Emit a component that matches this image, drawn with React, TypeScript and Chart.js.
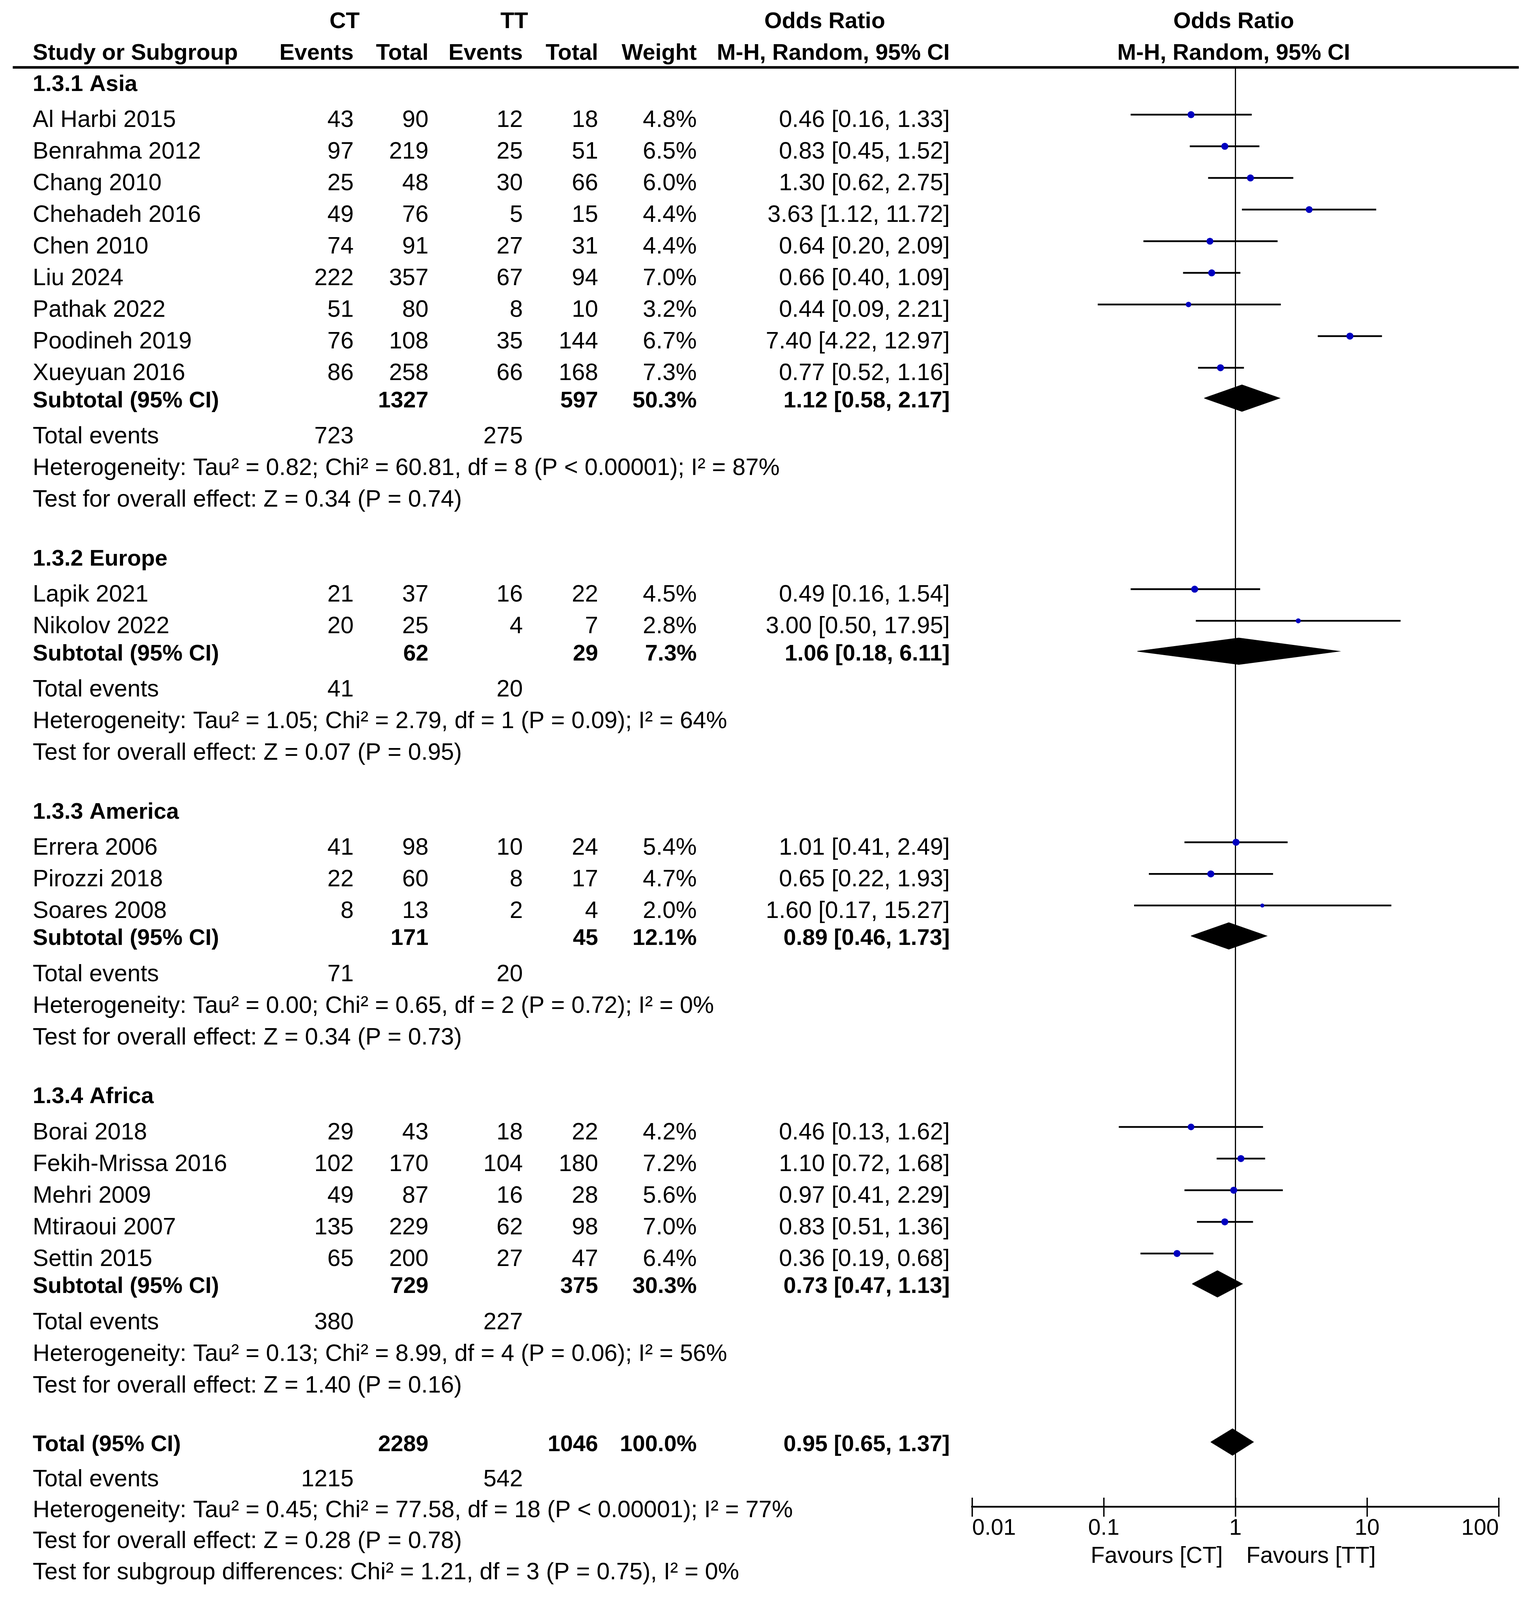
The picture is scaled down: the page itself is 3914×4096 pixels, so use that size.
import React, { useEffect, useRef } from 'react';
import { Chart, registerables } from 'chart.js';

Chart.register(...registerables);

// ---------------- data ----------------
const GROUP_LABELS = ['1.3.1 Asia', '1.3.2 Europe', '1.3.3 America', '1.3.4 Africa'];
const GROUP_SIZES = [9, 2, 3, 5];

const STUDY_NAMES = [
  'Al Harbi 2015', 'Benrahma 2012', 'Chang 2010', 'Chehadeh 2016', 'Chen 2010', 'Liu 2024',
  'Pathak 2022', 'Poodineh 2019', 'Xueyuan 2016',
  'Lapik 2021', 'Nikolov 2022',
  'Errera 2006', 'Pirozzi 2018', 'Soares 2008',
  'Borai 2018', 'Fekih-Mrissa 2016', 'Mehri 2009', 'Mtiraoui 2007', 'Settin 2015',
];
const CT_EVENTS = [43, 97, 25, 49, 74, 222, 51, 76, 86, 21, 20, 41, 22, 8, 29, 102, 49, 135, 65];
const CT_TOTAL = [90, 219, 48, 76, 91, 357, 80, 108, 258, 37, 25, 98, 60, 13, 43, 170, 87, 229, 200];
const TT_EVENTS = [12, 25, 30, 5, 27, 67, 8, 35, 66, 16, 4, 10, 8, 2, 18, 104, 16, 62, 27];
const TT_TOTAL = [18, 51, 66, 15, 31, 94, 10, 144, 168, 22, 7, 24, 17, 4, 22, 180, 28, 98, 47];
const WEIGHTS = [4.8, 6.5, 6.0, 4.4, 4.4, 7.0, 3.2, 6.7, 7.3, 4.5, 2.8, 5.4, 4.7, 2.0, 4.2, 7.2, 5.6, 7.0, 6.4];
const ODDS = [0.46, 0.83, 1.30, 3.63, 0.64, 0.66, 0.44, 7.40, 0.77, 0.49, 3.00, 1.01, 0.65, 1.60, 0.46, 1.10, 0.97, 0.83, 0.36];
const CI_LOW = [0.16, 0.45, 0.62, 1.12, 0.20, 0.40, 0.09, 4.22, 0.52, 0.16, 0.50, 0.41, 0.22, 0.17, 0.13, 0.72, 0.41, 0.51, 0.19];
const CI_HIGH = [1.33, 1.52, 2.75, 11.72, 2.09, 1.09, 2.21, 12.97, 1.16, 1.54, 17.95, 2.49, 1.93, 15.27, 1.62, 1.68, 2.29, 1.36, 0.68];

const SUB_CT_TOTAL = [1327, 62, 171, 729];
const SUB_TT_TOTAL = [597, 29, 45, 375];
const SUB_WEIGHTS = [50.3, 7.3, 12.1, 30.3];
const SUB_ODDS = [1.12, 1.06, 0.89, 0.73];
const SUB_LOW = [0.58, 0.18, 0.46, 0.47];
const SUB_HIGH = [2.17, 6.11, 1.73, 1.13];
const SUB_CT_EVENTS = [723, 41, 71, 380];
const SUB_TT_EVENTS = [275, 20, 20, 227];
const SUB_HETEROGENEITY = [
  'Heterogeneity: Tau² = 0.82; Chi² = 60.81, df = 8 (P < 0.00001); I² = 87%',
  'Heterogeneity: Tau² = 1.05; Chi² = 2.79, df = 1 (P = 0.09); I² = 64%',
  'Heterogeneity: Tau² = 0.00; Chi² = 0.65, df = 2 (P = 0.72); I² = 0%',
  'Heterogeneity: Tau² = 0.13; Chi² = 8.99, df = 4 (P = 0.06); I² = 56%',
];
const SUB_OVERALL = [
  'Test for overall effect: Z = 0.34 (P = 0.74)',
  'Test for overall effect: Z = 0.07 (P = 0.95)',
  'Test for overall effect: Z = 0.34 (P = 0.73)',
  'Test for overall effect: Z = 1.40 (P = 0.16)',
];

const TOTAL_CT_TOTAL = 2289;
const TOTAL_TT_TOTAL = 1046;
const TOTAL_WEIGHT = 100.0;
const TOTAL_ODDS = 0.95;
const TOTAL_LOW = 0.65;
const TOTAL_HIGH = 1.37;
const TOTAL_CT_EVENTS = 1215;
const TOTAL_TT_EVENTS = 542;
const TOTAL_NOTES = [
  'Heterogeneity: Tau² = 0.45; Chi² = 77.58, df = 18 (P < 0.00001); I² = 77%',
  'Test for overall effect: Z = 0.28 (P = 0.78)',
  'Test for subgroup differences: Chi² = 1.21, df = 3 (P = 0.75), I² = 0%',
];

const AXIS_TICKS = [0.01, 0.1, 1, 10, 100];
const AXIS_LABELS = ['0.01', '0.1', '1', '10', '100'];
const FAVOURS = ['Favours [CT]', 'Favours [TT]'];
const HEADER_TOP = ['CT', 'TT', 'Odds Ratio', 'Odds Ratio'];
const HEADER_BOTTOM = ['Study or Subgroup', 'Events', 'Total', 'Events', 'Total', 'Weight', 'M-H, Random, 95% CI', 'M-H, Random, 95% CI'];

// ---------------- layout (reference units) ----------------
const W = 3914;
const H = 4096;
const SX = W / 1498;
const Y_MAX = 1568;
const COL = {
  name: 32.1, ctEv: 346.5, ctTot: 419.8, ttEv: 512.2, ttTot: 586, weight: 682.6, ci: 930.5,
  ct: 337.6, tt: 503.8, orHead: 808, plotHead: 1208.7,
};
const AXIS_Y = 1476.6;
const TICK_HALF = 8.9;
const PLOT_LEFT = 952.4;
const PLOT_RIGHT = 1468.4;
const RULE_Y = 66;
const RULE_X0 = 12.5;
const RULE_X1 = 1488;
const HEAD1_Y = 19.4;
const HEAD2_Y = 50.7;
const FIRST_GROUP_Y = 81.2;
const DOT_SHIFT = -3.8;
const DIAMOND_SHIFT = -1;
const DIAMOND_HALF = 13;
const FAV_Y = 1523.4;

const FAMILY = '"Liberation Sans", Arial, Helvetica, sans-serif';
const REG = 60.5;
const BOLD = 58;
const TICK_FONT = 57.5;
const FAV_FONT = 58.5;

function buildRows() {
  const groupY: number[] = [];
  const studyY: number[] = [];
  const subY: number[] = [];
  const evY: number[] = [];
  const hetY: number[] = [];
  const testY: number[] = [];
  let y = FIRST_GROUP_Y;
  GROUP_SIZES.forEach((n, g) => {
    if (g > 0) y += 58;
    groupY.push(y);
    y += 35;
    for (let i = 0; i < n; i++) {
      if (i > 0) y += 31;
      studyY.push(y);
    }
    y += 27; subY.push(y);
    y += 35; evY.push(y);
    y += 31; hetY.push(y);
    y += 31; testY.push(y);
  });
  const totalY = y + 58;
  const totEvY = totalY + 34.1;
  const noteY = [totEvY + 30.3, totEvY + 60.6, totEvY + 90.9];
  return { groupY, studyY, subY, evY, hetY, testY, totalY, totEvY, noteY };
}
const ROWS = buildRows();

const f2 = (v: number) => v.toFixed(2);
const ciText = (o: number, l: number, h: number) => `${f2(o)} [${f2(l)}, ${f2(h)}]`;
const pct = (w: number) => `${w.toFixed(1)}%`;

function put(ctx: CanvasRenderingContext2D, yScale: any, s: string, xRef: number, yVal: number,
  align: CanvasTextAlign, bold: boolean, size?: number) {
  const sz = size ?? (bold ? BOLD : REG);
  ctx.font = `${bold ? 'bold ' : ''}${sz}px ${FAMILY}`;
  ctx.textAlign = align;
  ctx.textBaseline = 'alphabetic';
  ctx.fillStyle = '#000';
  ctx.fillText(s, xRef * SX, yScale.getPixelForValue(yVal) + 0.36 * sz);
}

const tablePlugin = {
  id: 'forestTable',
  beforeDraw(chart: any) {
    const ctx = chart.ctx;
    ctx.save();
    ctx.fillStyle = '#fff';
    ctx.fillRect(0, 0, chart.width, chart.height);
    ctx.restore();
  },
  afterDraw(chart: any) {
    const ctx: CanvasRenderingContext2D = chart.ctx;
    const ys = chart.scales.y;
    const xs = chart.scales.x;
    ctx.save();
    // header rule
    ctx.strokeStyle = '#000';
    ctx.lineWidth = 6.5;
    ctx.beginPath();
    ctx.moveTo(RULE_X0 * SX, ys.getPixelForValue(RULE_Y));
    ctx.lineTo(RULE_X1 * SX, ys.getPixelForValue(RULE_Y));
    ctx.stroke();

    // headers
    const hx1 = [COL.ct, COL.tt, COL.orHead, COL.plotHead];
    HEADER_TOP.forEach((t, i) => put(ctx, ys, t, hx1[i], HEAD1_Y, 'center', true));
    const hx2 = [COL.name, COL.ctEv, COL.ctTot, COL.ttEv, COL.ttTot, COL.weight, COL.ci, COL.plotHead];
    const ha2: CanvasTextAlign[] = ['left', 'right', 'right', 'right', 'right', 'right', 'right', 'center'];
    HEADER_BOTTOM.forEach((t, i) => put(ctx, ys, t, hx2[i], HEAD2_Y, ha2[i], true));

    // groups
    let s = 0;
    GROUP_SIZES.forEach((n, g) => {
      put(ctx, ys, GROUP_LABELS[g], COL.name, ROWS.groupY[g], 'left', true);
      for (let i = 0; i < n; i++, s++) {
        const y = ROWS.studyY[s];
        put(ctx, ys, STUDY_NAMES[s], COL.name, y, 'left', false);
        put(ctx, ys, String(CT_EVENTS[s]), COL.ctEv, y, 'right', false);
        put(ctx, ys, String(CT_TOTAL[s]), COL.ctTot, y, 'right', false);
        put(ctx, ys, String(TT_EVENTS[s]), COL.ttEv, y, 'right', false);
        put(ctx, ys, String(TT_TOTAL[s]), COL.ttTot, y, 'right', false);
        put(ctx, ys, pct(WEIGHTS[s]), COL.weight, y, 'right', false);
        put(ctx, ys, ciText(ODDS[s], CI_LOW[s], CI_HIGH[s]), COL.ci, y, 'right', false);
      }
      const sy = ROWS.subY[g];
      put(ctx, ys, 'Subtotal (95% CI)', COL.name, sy, 'left', true);
      put(ctx, ys, String(SUB_CT_TOTAL[g]), COL.ctTot, sy, 'right', true);
      put(ctx, ys, String(SUB_TT_TOTAL[g]), COL.ttTot, sy, 'right', true);
      put(ctx, ys, pct(SUB_WEIGHTS[g]), COL.weight, sy, 'right', true);
      put(ctx, ys, ciText(SUB_ODDS[g], SUB_LOW[g], SUB_HIGH[g]), COL.ci, sy, 'right', true);
      const ey = ROWS.evY[g];
      put(ctx, ys, 'Total events', COL.name, ey, 'left', false);
      put(ctx, ys, String(SUB_CT_EVENTS[g]), COL.ctEv, ey, 'right', false);
      put(ctx, ys, String(SUB_TT_EVENTS[g]), COL.ttEv, ey, 'right', false);
      put(ctx, ys, SUB_HETEROGENEITY[g], COL.name, ROWS.hetY[g], 'left', false);
      put(ctx, ys, SUB_OVERALL[g], COL.name, ROWS.testY[g], 'left', false);
    });

    // overall
    const ty = ROWS.totalY;
    put(ctx, ys, 'Total (95% CI)', COL.name, ty, 'left', true);
    put(ctx, ys, String(TOTAL_CT_TOTAL), COL.ctTot, ty, 'right', true);
    put(ctx, ys, String(TOTAL_TT_TOTAL), COL.ttTot, ty, 'right', true);
    put(ctx, ys, pct(TOTAL_WEIGHT), COL.weight, ty, 'right', true);
    put(ctx, ys, ciText(TOTAL_ODDS, TOTAL_LOW, TOTAL_HIGH), COL.ci, ty, 'right', true);
    put(ctx, ys, 'Total events', COL.name, ROWS.totEvY, 'left', false);
    put(ctx, ys, String(TOTAL_CT_EVENTS), COL.ctEv, ROWS.totEvY, 'right', false);
    put(ctx, ys, String(TOTAL_TT_EVENTS), COL.ttEv, ROWS.totEvY, 'right', false);
    TOTAL_NOTES.forEach((t, i) => put(ctx, ys, t, COL.name, ROWS.noteY[i], 'left', false));

    // favours labels around OR = 1
    const x1 = xs.getPixelForValue(1) / SX;
    put(ctx, ys, FAVOURS[0], x1 - 12.4, FAV_Y, 'right', false, FAV_FONT);
    put(ctx, ys, FAVOURS[1], x1 + 10.6, FAV_Y, 'left', false, FAV_FONT);
    ctx.restore();
  },
};

export default function App() {
  const ref = useRef<HTMLCanvasElement>(null);
  useEffect(() => {
    document.body.style.margin = '0';
    const canvas = ref.current;
    if (!canvas) return;

    const datasets: any[] = [];
    // study point estimates
    datasets.push({
      data: STUDY_NAMES.map((_, i) => ({ x: ODDS[i], y: ROWS.studyY[i] + DOT_SHIFT })),
      showLine: false,
      pointStyle: 'circle',
      pointRadius: WEIGHTS.map((w) => Math.min(9, 2.2 + 1.5 * w)),
      pointBackgroundColor: '#0000C0',
      pointBorderColor: '#0000C0',
      pointBorderWidth: 0,
      order: 0,
    });
    // pooled diamonds
    const diamonds = SUB_ODDS.map((o, g) => ({ o, l: SUB_LOW[g], h: SUB_HIGH[g], y: ROWS.subY[g] }));
    diamonds.push({ o: TOTAL_ODDS, l: TOTAL_LOW, h: TOTAL_HIGH, y: ROWS.totalY });
    diamonds.forEach((d) => {
      const y = d.y + DIAMOND_SHIFT;
      datasets.push({
        data: [
          { x: d.l, y }, { x: d.o, y: y - DIAMOND_HALF }, { x: d.h, y }, { x: d.o, y: y + DIAMOND_HALF }, { x: d.l, y },
        ],
        fill: 'shape',
        backgroundColor: '#000',
        borderColor: '#000',
        borderWidth: 1.5,
        borderJoinStyle: 'miter',
        pointRadius: 0,
        tension: 0,
        order: 1,
      });
    });
    // confidence intervals
    STUDY_NAMES.forEach((_, i) => {
      const y = ROWS.studyY[i] + DOT_SHIFT;
      datasets.push({
        data: [{ x: CI_LOW[i], y }, { x: CI_HIGH[i], y }],
        borderColor: '#000',
        borderWidth: 4.5,
        borderCapStyle: 'butt',
        pointRadius: 0,
        fill: false,
        order: 2,
      });
    });
    // line of no effect
    datasets.push({
      data: [{ x: 1, y: RULE_Y }, { x: 1, y: AXIS_Y }],
      borderColor: '#000',
      borderWidth: 3,
      pointRadius: 0,
      fill: false,
      order: 3,
    });

    const setTicks = (s: any) => {
      s.ticks = AXIS_TICKS.map((v) => ({ value: v }));
    };

    const chart = new Chart(canvas, {
      type: 'line',
      data: { datasets },
      options: {
        responsive: false,
        animation: false,
        events: [],
        layout: {
          autoPadding: false,
          padding: { left: PLOT_LEFT * SX, right: W - PLOT_RIGHT * SX, top: 0, bottom: 0 },
        },
        plugins: { legend: { display: false }, tooltip: { enabled: false }, title: { display: false } },
        scales: {
          x: {
            type: 'logarithmic',
            min: 0.01,
            max: 100,
            position: { y: AXIS_Y } as any,
            afterBuildTicks: setTicks,
            border: { display: true, color: '#000', width: 4.5 },
            grid: {
              display: true, drawOnChartArea: false, drawTicks: true,
              tickLength: TICK_HALF * SX, tickWidth: 3.5, tickColor: '#000', color: '#000', lineWidth: 3.5,
            },
            ticks: {
              display: true, autoSkip: false, maxRotation: 0, minRotation: 0, align: 'inner', padding: -2,
              color: '#000', font: { family: FAMILY, size: TICK_FONT },
              callback: (_v: any, i: number) => AXIS_LABELS[i],
            },
          } as any,
          x2: {
            type: 'logarithmic',
            axis: 'x',
            min: 0.01,
            max: 100,
            position: { y: AXIS_Y - TICK_HALF } as any,
            afterBuildTicks: setTicks,
            border: { display: false },
            grid: {
              display: true, drawOnChartArea: false, drawTicks: true,
              tickLength: TICK_HALF * SX, tickWidth: 3.5, tickColor: '#000', color: '#000', lineWidth: 3.5,
            },
            ticks: { display: false, autoSkip: false },
          } as any,
          y: {
            type: 'linear',
            min: 0,
            max: Y_MAX,
            reverse: true,
            display: false,
          },
        },
      },
      plugins: [tablePlugin],
    });
    return () => chart.destroy();
  }, []);

  return (
    <canvas
      ref={ref}
      width={W}
      height={H}
      style={{ display: 'block', width: `${W}px`, height: `${H}px` }}
    />
  );
}
